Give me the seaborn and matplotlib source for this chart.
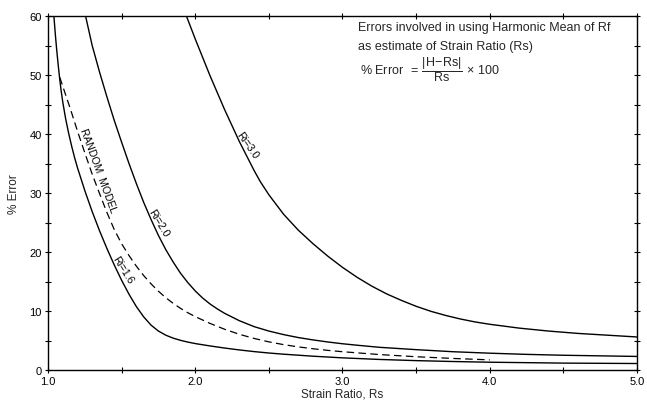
import matplotlib
matplotlib.use("Agg")
import matplotlib.pyplot as plt
import seaborn as sns
import numpy as np
from matplotlib.ticker import MultipleLocator

# ---- data ----
ri30_rs = [1.94, 2.00, 2.10, 2.20, 2.30, 2.40, 2.44, 2.50, 2.60, 2.70, 2.80, 2.90, 3.00,
           3.10, 3.20, 3.30, 3.40, 3.50, 3.60, 3.70, 3.80, 3.90, 4.00, 4.20, 4.40, 4.60,
           4.80, 5.00]
ri30_err = [60.0, 56.1, 49.9, 44.1, 38.7, 33.8, 32.0, 29.7, 26.4, 23.7, 21.4, 19.3, 17.4,
            15.7, 14.2, 12.9, 11.8, 10.8, 9.95, 9.25, 8.65, 8.15, 7.75, 7.1, 6.6, 6.2,
            5.9, 5.6]

ri20_rs = [1.255, 1.30, 1.35, 1.40, 1.45, 1.50, 1.55, 1.60, 1.65, 1.70, 1.75, 1.80, 1.85,
           1.90, 1.95, 2.00, 2.05, 2.10, 2.15, 2.20, 2.30, 2.40, 2.50, 2.60, 2.70, 2.80,
           2.90, 3.00, 3.10, 3.25, 3.50, 3.75, 4.00, 4.25, 4.50, 4.75, 5.00]
ri20_err = [60.0, 55.0, 50.5, 46.3, 42.3, 38.6, 35.0, 31.6, 28.4, 25.5, 22.8, 20.4, 18.3,
            16.4, 14.8, 13.4, 12.2, 11.2, 10.35, 9.6, 8.35, 7.35, 6.6, 6.0, 5.5, 5.1,
            4.75, 4.45, 4.2, 3.85, 3.45, 3.1, 2.85, 2.65, 2.5, 2.4, 2.3]

ri16_rs = [1.04, 1.05, 1.06, 1.07, 1.08, 1.09, 1.10, 1.12, 1.14, 1.16, 1.18, 1.20, 1.25,
           1.30, 1.35, 1.40, 1.45, 1.50, 1.55, 1.60, 1.65, 1.70, 1.75, 1.80, 1.85, 1.90,
           1.95, 2.00, 2.10, 2.20, 2.30, 2.40, 2.50, 2.60, 2.80, 3.00, 3.25, 3.50, 3.75,
           4.00, 4.50, 5.00]
ri16_err = [60.0, 56.8, 54.0, 51.5, 49.2, 47.2, 45.45, 42.55, 40.15, 38.0, 36.05, 34.3,
            30.4, 26.85, 23.6, 20.6, 17.8, 15.2, 12.85, 10.75, 9.0, 7.6, 6.6, 5.9, 5.4,
            5.03, 4.73, 4.48, 4.08, 3.72, 3.4, 3.12, 2.88, 2.68, 2.34, 2.06, 1.79, 1.59,
            1.44, 1.32, 1.17, 1.1]

rand_rs = [1.08, 1.10, 1.15, 1.20, 1.25, 1.30, 1.35, 1.40, 1.45, 1.50, 1.55, 1.60, 1.65,
           1.70, 1.75, 1.80, 1.85, 1.90, 1.95, 2.00, 2.10, 2.20, 2.30, 2.40, 2.50, 2.60,
           2.70, 2.80, 2.90, 3.00, 3.25, 3.50, 3.75, 4.00]
rand_err = [49.6, 48.1, 44.4, 40.5, 36.8, 33.2, 29.9, 26.7, 23.8, 21.4, 19.4, 17.6, 16.0,
            14.6, 13.35, 12.25, 11.3, 10.45, 9.7, 9.05, 7.9, 6.9, 6.05, 5.35, 4.77, 4.3,
            3.92, 3.6, 3.33, 3.1, 2.62, 2.25, 1.96, 1.72]

x_ticks = [1.0, 2.0, 3.0, 4.0, 5.0]
x_tick_labels = ["1.0", "2.0", "3.0", "4.0", "5.0"]
y_ticks = [0, 10, 20, 30, 40, 50, 60]

curve_labels = ["Ri=3.0", "Ri=2.0", "Ri=1.6", "RANDOM  MODEL"]
label_rs = [2.32, 1.72, 1.475, 1.295]
label_rot = [-55, -59, -58, -70]
label_shift = [(0.5, 0.3), (0.5, 0.3), (0.5, 0.3), (1.5, 0.5)]

sns.set_theme(style="ticks")
plt.rcParams["font.family"] = ["Liberation Sans", "DejaVu Sans"]
plt.rcParams["mathtext.fontset"] = "custom"
plt.rcParams["mathtext.rm"] = "Liberation Sans"
plt.rcParams["mathtext.it"] = "Liberation Sans:italic"

fig = plt.figure(figsize=(6.47, 4.02), dpi=100)
ax = fig.add_axes([0.0742, 0.0771, 0.9103, 0.8806])

series = [(ri30_rs, ri30_err), (ri20_rs, ri20_err), (ri16_rs, ri16_err)]
for xs, ys in series:
    sns.lineplot(x=xs, y=ys, ax=ax, color="black", lw=1.0, sort=False, estimator=None)
sns.lineplot(x=rand_rs, y=rand_err, ax=ax, color="black", lw=0.9, sort=False, estimator=None)
ax.lines[-1].set_dashes((6, 3.5))

ax.set_xlim(1.0, 5.0)
ax.set_ylim(0, 60)
ax.set_xticks(x_ticks)
ax.set_xticklabels(x_tick_labels)
ax.set_yticks(y_ticks)
ax.xaxis.set_minor_locator(MultipleLocator(0.5))
ax.yaxis.set_minor_locator(MultipleLocator(5))
ax.tick_params(which="both", direction="inout", length=5, width=0.8, colors="black",
               labelsize=8, top=True, right=True, pad=2)
ax.tick_params(which="minor", length=4)

for s in ax.spines.values():
    s.set_visible(True)
    s.set_linewidth(1.0)
    s.set_color("black")

ax.set_xlabel("Strain Ratio, Rs", fontsize=8.5, labelpad=1)
ax.set_ylabel("% Error", fontsize=8.5, labelpad=7)

all_series = series + [(rand_rs, rand_err)]
for txt, xr, r, sh, (xs, ys) in zip(curve_labels, label_rs, label_rot, label_shift, all_series):
    yv = float(np.interp(xr, xs, ys))
    ax.annotate(txt, xy=(xr, yv), xytext=sh, textcoords="offset points",
                rotation=r, rotation_mode="anchor", ha="center", va="bottom",
                fontsize=7.5, color="black")

fig.text(0.553, 0.930, "Errors involved in using Harmonic Mean of Rf", fontsize=9, va="center")
fig.text(0.553, 0.883, "as estimate of Strain Ratio (Rs)", fontsize=9, va="center")
fig.text(0.556, 0.826,
         r"% Error $\;=\,\dfrac{|\mathrm{H\!-\!Rs}|}{\mathrm{Rs}}\,\times\,100$",
         fontsize=9, va="center")

fig.savefig("out.png", dpi=100, facecolor="white")
